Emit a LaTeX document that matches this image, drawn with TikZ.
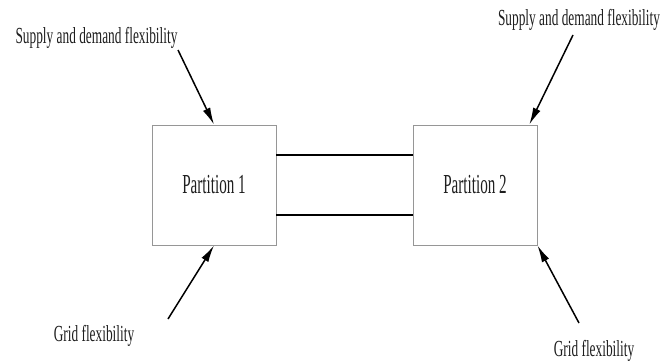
\documentclass[tikz,border=0pt]{standalone}
\usepackage{fontspec}
\setmainfont{Liberation Serif}
\usetikzlibrary{arrows.meta,calc}
\definecolor{boxgray}{RGB}{150,150,150}
\definecolor{inkgray}{RGB}{30,30,30}
\newcommand\sqz[1]{\scalebox{0.58}[1]{#1}}
\newcommand\sqp[1]{\scalebox{0.55}[1]{#1}}
\tikzset{
  partbox/.style={draw=boxgray, line width=0.9pt, minimum width=124pt, minimum height=120pt, inner sep=0pt, text=inkgray, font=\fontsize{27.5}{27.5}\selectfont},
  lab/.style={anchor=base, inner sep=0pt, text=inkgray, font=\fontsize{23}{23}\selectfont},
  flow/.style={line width=1.5pt, -{Latex[length=17pt,width=8pt]}},
  link/.style={line width=2pt}
}
\begin{document}
\begin{tikzpicture}[x=1pt,y=-1pt]
\useasboundingbox (0,0) rectangle (672,362);
\node[partbox] (p1) at (214,185) {\sqp{Partition 1}};
\node[partbox] (p2) at (475,185) {\sqp{Partition 2}};
\node[lab] (l1) at (96.5,43) {\sqz{Supply and demand flexibility}};
\node[lab] (l2) at (579,25) {\sqz{Supply and demand flexibility}};
\node[lab] (l3) at (94,341) {\sqz{Grid flexibility}};
\node[lab] (l4) at (594,356) {\sqz{Grid flexibility}};
\coordinate (t1) at (178,50);
\coordinate (t2) at (573,35);
\coordinate (t3) at (168,319);
\coordinate (t4) at (579,323);
\coordinate (h2) at ($(p2.north west)!0.935!(p2.north east)$);
\draw[flow] (t1) -- (p1.north);
\draw[flow] (t2) -- (h2);
\draw[flow] (t3) -- (p1.south);
\draw[flow] (t4) -- (p2.south east);
\draw[link] ($(p1.north east)+(0,30)$) -- ($(p2.north west)+(0,30)$);
\draw[link] ($(p1.south east)+(0,-30)$) -- ($(p2.south west)+(0,-30)$);
\end{tikzpicture}
\end{document}
